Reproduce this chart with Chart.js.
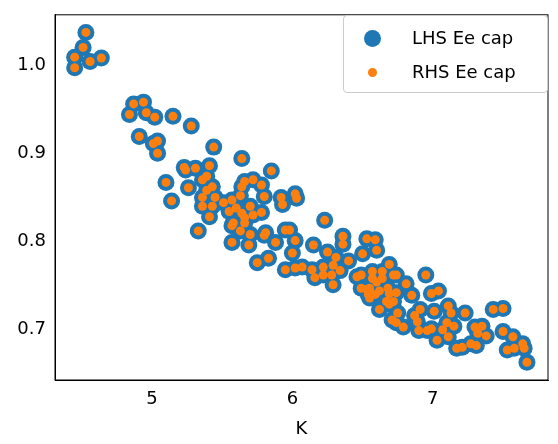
<!DOCTYPE html>
<html><head><meta charset="utf-8">
<script src="https://cdn.jsdelivr.net/npm/chart.js@4/dist/chart.umd.min.js"></script>
<style>
body{margin:0;background:#fff;}
#wrap{position:relative;width:558px;height:444px;}
#lg{position:absolute;left:343px;top:15px;width:203px;height:76px;border:1px solid #ccc;border-radius:4px;background:rgba(255,255,255,0.8);font-family:"DejaVu Sans";font-size:18px;color:#000;}
.row{position:absolute;left:0;height:24px;line-height:24px;}
.dot{position:absolute;border-radius:50%;}
</style></head><body>
<div id="wrap"><canvas id="c" width="558" height="444"></canvas>
<div id="lg">
<div class="dot" style="left:20px;top:14px;width:17px;height:17px;background:#1f77b4"></div>
<div class="row" style="left:68px;top:10px">LHS Ee cap</div>
<div class="dot" style="left:24px;top:52px;width:9px;height:9px;background:#ff7f0e"></div>
<div class="row" style="left:68px;top:44px">RHS Ee cap</div>
</div></div>
<script>
const kValues=[4.53,4.51,4.45,4.45,4.56,4.64,4.87,4.94,4.84,4.96,5.02,5.15,5.28,4.91,5.04,5.01,5.04,5.44,5.64,5.85,5.23,5.24,5.31,5.41,5.39,5.36,5.10,5.26,5.43,5.39,5.14,5.36,5.45,5.66,5.72,5.78,5.64,5.80,5.92,6.02,6.03,5.93,5.63,5.57,5.51,5.36,5.43,5.60,5.70,5.78,5.55,5.64,5.72,5.66,5.41,5.58,5.66,5.57,5.63,5.70,5.81,5.80,5.88,5.33,5.57,5.69,5.75,5.83,5.95,5.98,6.02,6.00,6.15,6.23,6.36,6.36,6.25,6.31,6.40,6.29,6.34,6.50,6.53,6.59,6.60,5.95,6.02,6.07,6.14,6.22,6.22,6.28,6.16,6.29,6.46,6.49,6.57,6.57,6.49,6.55,6.54,6.59,6.64,6.64,6.69,6.72,6.74,6.60,6.53,6.55,6.62,6.68,6.69,6.74,6.81,6.85,6.67,6.72,6.69,6.62,6.75,6.71,6.74,6.79,6.95,6.99,7.04,6.91,6.87,6.89,6.90,6.96,6.99,7.01,7.11,7.13,7.23,7.10,7.07,7.11,7.03,7.15,7.17,7.21,7.27,7.31,7.30,7.35,7.32,7.38,7.43,7.50,7.50,7.57,7.53,7.58,7.64,7.65,7.67];
const lhsValues=[1.037,1.020,1.009,0.997,1.004,1.008,0.956,0.958,0.944,0.946,0.941,0.942,0.931,0.919,0.914,0.911,0.900,0.907,0.894,0.880,0.884,0.881,0.883,0.886,0.874,0.870,0.867,0.861,0.862,0.858,0.846,0.850,0.850,0.868,0.870,0.864,0.862,0.851,0.850,0.854,0.849,0.842,0.852,0.847,0.844,0.840,0.840,0.838,0.840,0.833,0.834,0.832,0.830,0.827,0.828,0.821,0.821,0.818,0.812,0.808,0.810,0.807,0.799,0.812,0.799,0.796,0.776,0.781,0.813,0.813,0.801,0.787,0.796,0.824,0.806,0.797,0.788,0.782,0.778,0.773,0.767,0.786,0.803,0.802,0.790,0.768,0.770,0.771,0.768,0.771,0.762,0.762,0.759,0.751,0.760,0.762,0.766,0.758,0.747,0.747,0.740,0.740,0.766,0.758,0.774,0.762,0.762,0.754,0.746,0.736,0.744,0.747,0.741,0.742,0.752,0.739,0.732,0.732,0.729,0.723,0.719,0.711,0.708,0.703,0.762,0.741,0.744,0.723,0.716,0.709,0.699,0.699,0.701,0.721,0.727,0.719,0.719,0.708,0.700,0.692,0.688,0.704,0.679,0.680,0.684,0.682,0.703,0.704,0.696,0.693,0.723,0.724,0.698,0.692,0.677,0.679,0.684,0.679,0.663];
const rhsValues=lhsValues.slice();
const xTicks=[5,6,7];
const yTicks=[0.7,0.8,0.9,1.0];
const pts=(ys)=>kValues.map((x,i)=>({x:x,y:ys[i]}));
const font={family:"DejaVu Sans",size:18};
new Chart(document.getElementById('c'),{
type:'scatter',
data:{datasets:[
{label:'LHS Ee cap',data:pts(lhsValues),backgroundColor:'#1f77b4',borderWidth:0,pointRadius:8.5,pointHoverRadius:8.5,order:2},
{label:'RHS Ee cap',data:pts(rhsValues),backgroundColor:'#ff7f0e',borderWidth:0,pointRadius:4.5,pointHoverRadius:4.5,order:1}]},
options:{responsive:false,animation:false,events:[],
layout:{padding:{top:0,right:10,left:0,bottom:0}},
plugins:{legend:{display:false},tooltip:{enabled:false}},
scales:{
x:{type:'linear',min:4.31,max:7.82,grid:{display:false,drawTicks:true,tickLength:5,tickColor:'#000'},border:{color:'#000'},
 ticks:{font:font,color:'#000',padding:4},afterBuildTicks:a=>{a.ticks=xTicks.map(v=>({value:v}));},
 afterFit:a=>{a.height=64;},title:{display:true,text:'K',font:font,color:'#000',padding:{top:0}}},
y:{type:'linear',min:0.643,max:1.057,grid:{display:false,tickLength:5,tickColor:'#000'},border:{color:'#000'},
 ticks:{font:font,color:'#000',padding:4,callback:v=>v.toFixed(1)},afterBuildTicks:a=>{a.ticks=yTicks.map(v=>({value:v}));},
 afterFit:a=>{a.width=55;}}}},
plugins:[{id:'box',afterDraw(ch){const a=ch.chartArea,c=ch.ctx;c.save();c.strokeStyle='#000';c.lineWidth=1;c.strokeRect(a.left,a.top,a.right-a.left,a.bottom-a.top);c.restore();}}]
});
</script></body></html>
